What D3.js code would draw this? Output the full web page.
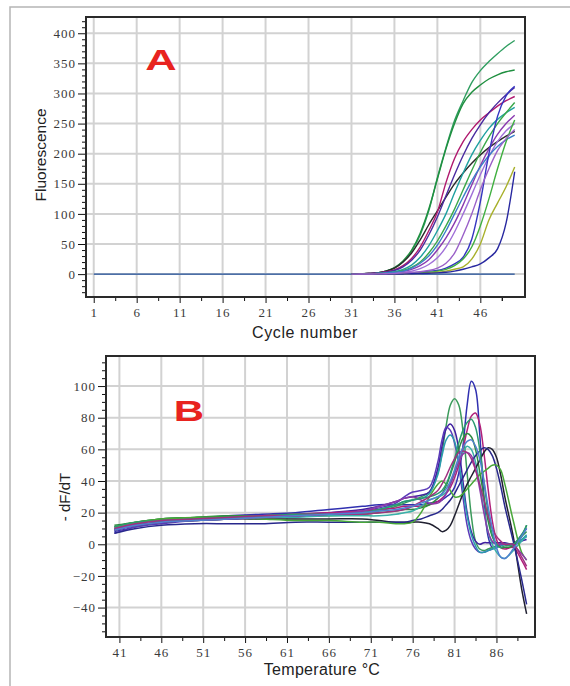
<!DOCTYPE html>
<html><head><meta charset="utf-8">
<script src="https://cdn.jsdelivr.net/npm/d3@7"></script>
<style>body{margin:0;background:#fff}</style>
</head><body><svg id="c" width="570" height="686"></svg>
<script>
// ---------- Panel A data (amplification) ----------
const cycleTicks = [1, 6, 11, 16, 21, 26, 31, 36, 41, 46];
const fluorTicks = [0, 50, 100, 150, 200, 250, 300, 350, 400];
const baselineCycles = [1, 50];
const baselineValues = [0, 0];
const cyclesA = [31,32,33,34,35,36,37,38,39,40,41,42,43,44,45,46,47,48,49,50];
const ampColors = ["#2f9e60","#1f8f3f","#2a2a2a","#b0186e","#4a2aa0","#1ea0a0","#3aa84a","#8a3ab0","#a070d8","#3a80c8","#3535c0","#40b040","#a8b02a","#2828a0","#9a60c8"];
const amp1  = [0,0.5,1,2,5,10,20,38,65,105,160,210,255,288,318,338,353,366,378,388];
const amp2  = [0,0.5,1,2,5,11,22,40,68,108,158,208,250,283,302,314,324,331,336,339];
const amp3  = [0,0.3,1,2,5,10,20,35,57,82,105,128,150,168,184,198,210,220,229,237];
const amp4  = [0,0.3,1,2,4,7,14,26,45,72,103,152,192,220,240,256,268,279,288,295];
const amp5  = [0,0.3,1,2,3,6,12,23,40,65,95,130,165,197,225,248,268,284,298,310];
const amp6  = [0,0.2,0.5,1,2,4,8,15,28,47,72,100,135,168,198,222,242,257,268,277];
const amp7  = [0,0.2,0.5,1,2,3,6,11,20,35,55,80,108,140,172,202,228,250,268,285];
const amp8  = [0,0.1,0.3,0.6,1,2,4,8,14,24,40,60,85,115,148,180,208,232,250,264];
const amp9  = [0,0.1,0.3,0.5,1,2,3,5,9,16,27,45,70,100,132,165,195,220,238,250];
const amp10 = [0,0.2,0.5,1,2,3,5,10,18,30,48,72,100,128,155,178,197,212,223,231];
const amp11 = [0,0,0.1,0.2,0.3,0.5,1,2,3,5,6,10,17,28,58,120,200,262,296,312];
const amp12 = [0,0,0.1,0.2,0.3,0.5,1,1.5,2,3,5,8,14,25,45,80,125,175,220,256];
const amp13 = [0,0,0,0.1,0.2,0.3,0.5,0.8,1,2,3,5,8,12,25,50,90,118,145,178];
const amp14 = [0,0,0,0,0.1,0.2,0.3,0.5,1,1.5,2,3,5,8,12,17,27,42,85,170];
const amp15 = [0,0.1,0.2,0.4,0.7,1,2,3,4,6,10,18,35,65,100,140,175,205,225,240];
const ampSeries = [amp1,amp2,amp3,amp4,amp5,amp6,amp7,amp8,amp9,amp10,amp11,amp12,amp13,amp14,amp15];

// ---------- Panel B data (melt curves) ----------
const tempTicks = [41, 46, 51, 56, 61, 66, 71, 76, 81, 86];
const dfTicks = [-40, -20, 0, 20, 40, 60, 80, 100];
const tempsB = [40.4,43,46,50,54,58,62,66,70,72,74,75,76,77,78,79,79.5,80,80.5,81,81.5,82,82.5,83,83.5,84,84.5,85,85.5,86,86.5,87,88,89,89.6];
const meltColors = ["#3030b0","#3a9a5a","#4020a0","#5a3ab8","#2a9ab0","#b0207a","#2e8b40","#38b0a8","#202030","#28288c","#48a838","#8a3aa8","#2a9a70","#a03080","#5080d0"];
const melt1  = [8,11,14,16,18,19,20,22,24,25,25,25,25,25,26,27,28,30,32,36,45,62,88,103,98,70,30,5,-2,-1,0,0,0,3,5];
const melt2  = [11,14,16,17,18,18,19,19,20,21,24,26,28,30,33,45,58,75,88,92,88,72,45,18,2,-3,-4,-3,-2,-1,0,0,0,5,8];
const melt3  = [9,12,14,16,17,18,19,20,22,24,27,29,30,31,33,48,62,73,76,72,60,40,20,8,2,0,1,1,1,1,1,1,0,2,3];
const melt4  = [7,11,13,15,16,17,18,19,21,23,26,30,33,34,36,52,66,74,72,64,50,30,12,2,-3,-5,-5,-4,-3,-2,-1,0,0,6,10];
const melt5  = [10,13,15,16,17,18,18,19,20,22,25,27,28,29,32,44,56,66,69,65,52,35,18,6,-1,-5,-5,-4,-3,-2,-1,0,0,3,6];
const melt6  = [10,13,15,16,17,18,19,20,21,22,23,24,24,24,25,27,29,32,36,42,50,60,72,81,83,76,58,35,15,3,-2,-3,-2,-10,-16];
const melt7  = [12,14,16,17,18,18,18,18,19,20,21,22,22,23,25,29,32,37,44,52,60,67,70,68,60,46,30,15,5,0,-2,-2,-1,5,12];
const melt8  = [10,12,14,15,16,17,17,18,18,18,19,20,21,24,28,30,31,33,38,45,52,58,62,60,52,38,22,8,0,-5,-8,-9,-4,2,5];
const melt9  = [9,12,14,15,16,16,16,16,16,15,14,14,14,14,13,10,8,9,12,18,25,32,38,43,48,53,58,61,60,55,44,30,5,-28,-44];
const melt10 = [7,10,12,13,13,13,14,14,14,14,14,14,15,16,18,20,22,25,28,32,37,42,47,52,56,59,61,60,56,48,37,24,2,-22,-38];
const melt11 = [11,14,16,17,17,16,15,15,14,14,13,13,14,20,30,38,40,38,34,30,30,32,35,38,41,44,46,48,50,50,47,38,15,-5,-10];
const melt12 = [9,12,14,15,16,17,18,19,21,24,27,29,30,28,26,26,28,32,38,45,52,57,58,56,48,35,20,8,2,0,0,0,-1,-6,-10];
const melt13 = [11,14,15,16,17,18,19,19,20,22,25,27,28,29,30,32,34,38,45,54,64,72,77,79,74,60,40,20,6,0,-2,-1,0,6,12];
const melt14 = [10,13,15,16,17,18,18,19,19,20,21,22,24,27,30,34,38,43,49,54,58,59,58,54,47,38,28,18,10,5,2,0,0,-8,-14];
const melt15 = [9,12,14,15,16,17,18,19,20,21,22,23,24,26,28,30,32,35,40,47,55,61,65,66,62,54,40,24,10,-2,-8,-9,-3,5,10];
const meltSeries = [melt1,melt2,melt3,melt4,melt5,melt6,melt7,melt8,melt9,melt10,melt11,melt12,melt13,melt14,melt15];

// ---------- drawing ----------
const svg = d3.select("#c");
svg.append("path").attr("d","M10,686 L10,7 L570,7").attr("fill","none").attr("stroke","#b5b5b5").attr("stroke-width",1.5);

function panel(o) {
  const {x, y, xMajor, yMajor, xMinor, yMinor} = o;
  const [x0, x1] = x.range(), [y0, y1] = y.range(); // y0 bottom
  const g = svg.append("g");
  g.selectAll(".gx").data(xMajor).join("line")
    .attr("x1", d => x(d)).attr("x2", d => x(d)).attr("y1", y1).attr("y2", y0)
    .attr("stroke", "#d2d2d2").attr("stroke-width", 2);
  g.selectAll(".gy").data(yMajor).join("line")
    .attr("y1", d => y(d)).attr("y2", d => y(d)).attr("x1", x0).attr("x2", x1)
    .attr("stroke", "#d2d2d2").attr("stroke-width", 2);
  const fmt = d3.format("d");
  const ax = g.append("g").attr("transform", `translate(0,${y0})`)
    .call(d3.axisBottom(x).tickValues(xMajor).tickSize(6).tickPadding(5).tickFormat(fmt));
  const axm = g.append("g").attr("transform", `translate(0,${y0})`)
    .call(d3.axisBottom(x).tickValues(xMinor).tickSize(4).tickFormat(""));
  const ay = g.append("g").attr("transform", `translate(${x0},0)`)
    .call(d3.axisLeft(y).tickValues(yMajor).tickSize(8).tickPadding(2).tickFormat(fmt));
  const aym = g.append("g").attr("transform", `translate(${x0},0)`)
    .call(d3.axisLeft(y).tickValues(yMinor).tickSize(4).tickFormat(""));
  [ax, axm, ay, aym].forEach(a => {
    a.select(".domain").remove();
    a.selectAll("line").attr("stroke", "#111");
    a.selectAll("text").attr("font-family", "'Liberation Serif', serif")
      .attr("font-size", 13).attr("fill", "#3a3a3a").attr("letter-spacing", 1);
  });
  return g;
}
function frame(x, y) {
  const [x0, x1] = x.range(), [y0, y1] = y.range();
  svg.append("rect").attr("x", x0).attr("y", y1).attr("width", x1 - x0).attr("height", y0 - y1)
    .attr("fill", "none").attr("stroke", "#2a2a2a").attr("stroke-width", 2);
}
function minorRange(a, b, step, skip) {
  const out = [];
  for (let v = a; v <= b + 1e-9; v += step) {
    const r = Math.round(v * 100) / 100;
    if (!skip.includes(r)) out.push(r);
  }
  return out;
}

// Panel A
const xA = d3.scaleLinear([0.1, 51.2], [86, 525]);
const yA = d3.scaleLinear([-38, 427], [297, 17]);
panel({x: xA, y: yA, xMajor: cycleTicks, yMajor: fluorTicks,
  xMinor: cycleTicks.map(d => d + 2.5).concat([48.5]).filter(d => d < 51),
  yMinor: minorRange(-30, 420, 10, fluorTicks)});
const lineA = d3.line().x((d, i) => xA(cyclesA[i])).y(d => yA(d)).curve(d3.curveMonotoneX);
svg.append("path").attr("d", d3.line().x((d, i) => xA(baselineCycles[i])).y(d => yA(d))(baselineValues))
  .attr("stroke", "#1f4e99").attr("stroke-width", 1.4).attr("fill", "none");
svg.append("g").selectAll("path").data(ampSeries).join("path")
  .attr("d", d => lineA(d)).attr("fill", "none")
  .attr("stroke", (d, i) => ampColors[i]).attr("stroke-width", 1.4);
frame(xA, yA);
svg.append("text").attr("transform", "translate(161,70) scale(1.45,1)").attr("text-anchor", "middle")
  .attr("font-family", "'Liberation Sans', Arial, sans-serif").attr("font-weight", "bold")
  .attr("font-size", 30).attr("fill", "#e8231f").text("A");
svg.append("text").attr("transform", "translate(46,155) rotate(-90)").attr("text-anchor", "middle")
  .attr("font-family", "'Liberation Sans', Arial, sans-serif").attr("font-size", 15.5).attr("fill", "#222")
  .text("Fluorescence");
svg.append("text").attr("x", 305).attr("y", 338).attr("text-anchor", "middle")
  .attr("font-family", "'Liberation Sans', Arial, sans-serif").attr("font-size", 16).attr("fill", "#222")
  .attr("letter-spacing", 0.6).text("Cycle number");

// Panel B
const xB = d3.scaleLinear([39.4, 90.6], [106, 535]);
const yB = d3.scaleLinear([-58.6, 119], [637, 356]);
panel({x: xB, y: yB, xMajor: tempTicks, yMajor: dfTicks,
  xMinor: tempTicks.map(d => d + 2.5),
  yMinor: minorRange(-55, 115, 5, dfTicks)});
const lineB = d3.line().x((d, i) => xB(tempsB[i])).y(d => yB(d)).curve(d3.curveCatmullRom.alpha(0.5));
svg.append("g").selectAll("path").data(meltSeries).join("path")
  .attr("d", d => lineB(d)).attr("fill", "none")
  .attr("stroke", (d, i) => meltColors[i]).attr("stroke-width", 1.5);
frame(xB, yB);
svg.append("text").attr("transform", "translate(189,421) scale(1.4,1)").attr("text-anchor", "middle")
  .attr("font-family", "'Liberation Sans', Arial, sans-serif").attr("font-weight", "bold")
  .attr("font-size", 30).attr("fill", "#e8231f").text("B");
svg.append("text").attr("transform", "translate(70,497) rotate(-90)").attr("text-anchor", "middle")
  .attr("font-family", "'Liberation Sans', Arial, sans-serif").attr("font-size", 15).attr("fill", "#222")
  .text("- dF/dT");
svg.append("text").attr("x", 322).attr("y", 675).attr("text-anchor", "middle")
  .attr("font-family", "'Liberation Sans', Arial, sans-serif").attr("font-size", 16).attr("fill", "#222")
  .attr("letter-spacing", 0.3).text("Temperature °C");
</script></body></html>
